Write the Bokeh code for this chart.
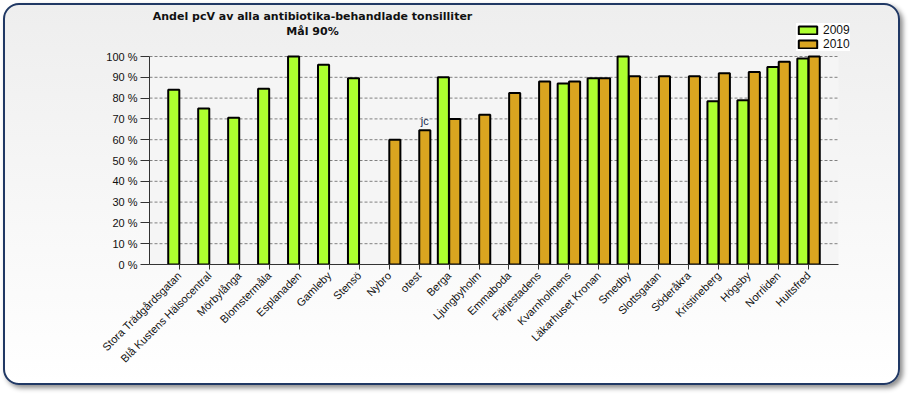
from bokeh.plotting import figure
from bokeh.models import (ColumnDataSource, Range1d, Legend, LegendItem,
                          FixedTicker, Label, BoxAnnotation)
from bokeh.transform import dodge
from bokeh.core.properties import value
from bokeh.embed import file_html
from bokeh.resources import INLINE
import math

title_line1 = "Andel pcV av alla antibiotika-behandlade tonsilliter"
title_line2 = "Mål 90%"

categories = ["Stora Trädgårdsgatan", "Blå Kustens Hälsocentral", "Mörbylånga",
              "Blomstermåla", "Esplanaden", "Gamleby", "Stensö", "Nybro", "otest",
              "Berga", "Ljungbyholm", "Emmaboda", "Färjestadens", "Kvarnholmens",
              "Läkarhuset Kronan", "Smedby", "Slottsgatan", "Söderåkra",
              "Kristineberg", "Högsby", "Norrliden", "Hultsfred"]
values_2009 = [84, 75, 70.5, 84.5, 100, 96, 89.5, None, None, 90, None, None, None,
               87, 89.5, 100, None, None, 78.5, 79, 95, 99]
values_2010 = [None, None, None, None, None, None, None, 60, 64.5, 70, 72, 82.5, 88,
               88, 89.5, 90.5, 90.5, 90.5, 92, 92.5, 97.5, 100]
series_names = ["2009", "2010"]
series_colors = ["#ADFF2F", "#DAA520"]

y_ticks = [0, 10, 20, 30, 40, 50, 60, 70, 80, 90, 100]
y_tick_labels = ["0 %", "10 %", "20 %", "30 %", "40 %", "50 %", "60 %", "70 %",
                 "80 %", "90 %", "100 %"]

note_cats = ["otest"]
note_vals = [64.5]
note_texts = ["jc"]

# canvas geometry (pixels)
W, H = 897, 382
FL, FT, FR, FB = 144, 4, 875, 259      # frame edges
AX_R, Y100 = 833, 51                  # right end of the plotting area, 100 % line

n = len(categories)
idx = list(range(n))
x_start = -1.0
px_per_unit = (AX_R - FL) / (n + 1)
x_end = x_start + (FR - FL) / px_per_unit
y_max = 100.0
y_end = y_max * (FB - FT) / (FB - Y100)

p = figure(x_range=Range1d(x_start, x_end), y_range=Range1d(0, y_end),
           width=W, height=H, output_backend="svg", toolbar_location=None,
           min_border_left=FL, min_border_top=FT,
           min_border_right=W - FR, min_border_bottom=H - FB)

p.styles = {"margin": "3px 0 0 3px",
            "border": "2px solid #203864", "border-radius": "16px",
            "box-shadow": "3px 3px 5px rgba(0,0,0,0.45)",
            "background": "linear-gradient(to bottom, #eeeeee, #ffffff)"}
p.border_fill_alpha = 0
p.background_fill_alpha = 0
p.outline_line_color = None

# plotting area background
p.add_layout(BoxAnnotation(left=x_start, right=n, bottom=0, top=y_max,
                           fill_color="#f5f5f5", fill_alpha=1, line_color=None,
                           level="underlay"))

# horizontal grid lines
p.segment(x0=[x_start] * len(y_ticks), x1=[n] * len(y_ticks), y0=y_ticks, y1=y_ticks,
          line_color="#808080", line_dash="3 2", line_width=1)

offsets = [-0.19, 0.19]
renderers = []
for name, vals, color, off in zip(series_names, [values_2009, values_2010],
                                  series_colors, offsets):
    xs = [i for i, v in zip(idx, vals) if v is not None]
    ys = [v for v in vals if v is not None]
    src = ColumnDataSource(dict(x=xs, top=ys))
    r = p.vbar(x=dodge("x", off), top="top", bottom=0, width=0.37,
               source=src, fill_color=color, line_color="black", line_width=2)
    renderers.append(r)

note_src = ColumnDataSource(dict(x=[categories.index(c) for c in note_cats],
                                 y=note_vals, t=note_texts))
p.text(x=dodge("x", 0.19), y="y", text="t", source=note_src,
       text_font=value("Liberation Sans"), text_font_size="11px",
       text_color="#1a2a50", text_align="center", text_baseline="bottom",
       y_offset=-3)

# axes
p.xgrid.visible = False
p.ygrid.visible = False
p.yaxis.ticker = FixedTicker(ticks=y_ticks)
p.yaxis.major_label_overrides = {t: l for t, l in zip(y_ticks, y_tick_labels)}
p.yaxis.bounds = (0, y_max)
p.yaxis.minor_tick_line_color = None
p.yaxis.major_tick_out = 9
p.yaxis.major_tick_in = 0
p.yaxis.major_label_standoff = 3
p.xaxis.ticker = FixedTicker(ticks=idx)
p.xaxis.major_label_overrides = {i: c for i, c in zip(idx, categories)}
p.xaxis.bounds = (x_start, n)
p.xaxis.minor_tick_line_color = None
for ax in (p.xaxis[0], p.yaxis[0]):
    ax.axis_line_color = "#333333"
    ax.major_tick_line_color = "#333333"
    ax.major_label_text_font = "Liberation Sans"
    ax.major_label_text_font_size = "11px"
    ax.major_label_text_color = "#101010"
p.xaxis.major_tick_out = 5
p.xaxis.major_tick_in = 0
p.xaxis.major_label_orientation = math.pi / 4
p.xaxis.major_label_standoff = 4

# two-line title, screen units relative to the frame's bottom-left corner
title_cx = 307
for txt, cy in ((title_line1, 11), (title_line2, 26)):
    p.add_layout(Label(x=title_cx - FL, y=FB - cy, x_units="screen", y_units="screen",
                       text=txt, text_font="DejaVu Sans", text_font_style="bold",
                       text_font_size="11px", text_color="#111111",
                       text_align="center", text_baseline="middle"))

legend_left, legend_bottom = 791, Y100 - 5
legend = Legend(items=[LegendItem(label=nm, renderers=[r])
                       for nm, r in zip(series_names, renderers)],
                location=(legend_left - FL, FB - legend_bottom), orientation="vertical",
                background_fill_color="white", background_fill_alpha=1,
                border_line_color=None, glyph_width=23, glyph_height=10,
                label_height=10, label_standoff=4, spacing=0, padding=7,
                label_text_font="Liberation Sans", label_text_font_size="12px",
                label_text_color="#111111", margin=0)
p.add_layout(legend)

open("out.html", "w").write(file_html(p, INLINE))
